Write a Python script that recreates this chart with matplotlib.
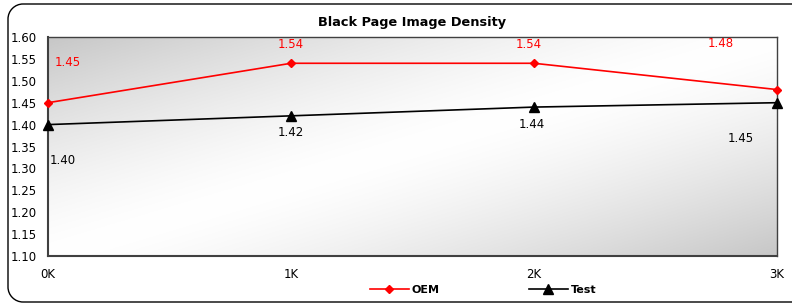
import numpy as np
import matplotlib.pyplot as plt
from matplotlib.path import Path
from matplotlib.patches import PathPatch

x_labels = ['0K', '1K', '2K', '3K']
oem = [1.45, 1.54, 1.54, 1.48]
test = [1.40, 1.42, 1.44, 1.45]

W, H = 792, 305
fig = plt.figure(figsize=(W / 100, H / 100), dpi=100)
fig.patch.set_facecolor('white')

# frame with rounded left corners, open to the right (pixel coords, y up)
l, r, b, t, rad = 8, 820, 3, 301, 15
k = 0.55 * rad
pts = [(r, t), (l + rad, t), (l + rad - k, t), (l, t - rad + k), (l, t - rad),
       (l, b + rad), (l, b + rad - k), (l + rad - k, b), (l + rad, b), (r, b)]
codes = [Path.MOVETO, Path.LINETO, Path.CURVE4, Path.CURVE4, Path.CURVE4,
         Path.LINETO, Path.CURVE4, Path.CURVE4, Path.CURVE4, Path.LINETO]
frame_path = Path([(px / W, py / H) for px, py in pts], codes)
fig.patches.append(PathPatch(frame_path, transform=fig.transFigure, fill=False,
                             edgecolor='black', linewidth=1.0))

ax = fig.add_axes([48 / W, 49 / H, 729 / W, 219 / H])
x = np.arange(len(x_labels))

# gradient: gray at top-left and bottom-right corners, white along the diagonal
u, v = np.meshgrid(np.linspace(0, 1, 400), np.linspace(0, 1, 150))
g = np.abs(u + v - 1.0)
shade = 1.0 - 0.22 * g ** 1.4
rgb = np.dstack([shade, shade, shade])
ax.imshow(rgb, extent=[0, 3, 1.10, 1.60], aspect='auto', origin='upper', zorder=0)

ax.plot(x, oem, color='red', marker='D', markersize=4, linewidth=1.2,
        label='OEM', zorder=3, clip_on=False)
ax.plot(x, test, color='black', marker='^', markersize=7, linewidth=1.2,
        label='Test', zorder=3, clip_on=False)

oem_lbl = [(0.08, 1.541), (1.0, 1.582), (1.98, 1.582), (2.77, 1.586)]
test_lbl = [(0.06, 1.319), (1.0, 1.381), (1.99, 1.401), (2.85, 1.369)]
for (lx, ly), val in zip(oem_lbl, oem):
    ax.text(lx, ly, f'{val:.2f}', color='red', fontsize=8.5, ha='center', va='center')
for (lx, ly), val in zip(test_lbl, test):
    ax.text(lx, ly, f'{val:.2f}', color='black', fontsize=8.5, ha='center', va='center')

ax.set_xlim(0, 3)
ax.set_ylim(1.10, 1.60)
yt = np.arange(1.10, 1.601, 0.05)
ax.set_yticks(yt)
ax.set_yticklabels([f'{t:.2f}' for t in yt])
ax.set_xticks(x)
ax.set_xticklabels(x_labels)
ax.tick_params(axis='both', length=0, labelsize=8.5)
ax.tick_params(axis='y', pad=8)
ax.tick_params(axis='x', pad=9)
for s in ax.spines.values():
    s.set_color('#404040')
    s.set_linewidth(1.0)
ax.spines['bottom'].set_linewidth(1.5)
ax.spines['left'].set_linewidth(1.5)

ax.set_title('Black Page Image Density', fontsize=9.3, fontweight='bold', pad=8)

fig.legend(loc='center', bbox_to_anchor=(0.61, 15 / H), ncol=2,
           frameon=False, columnspacing=8, handlelength=3.5,
           handletextpad=0.3, prop={'weight': 'bold', 'size': 8})

fig.savefig('out.png', dpi=100)
